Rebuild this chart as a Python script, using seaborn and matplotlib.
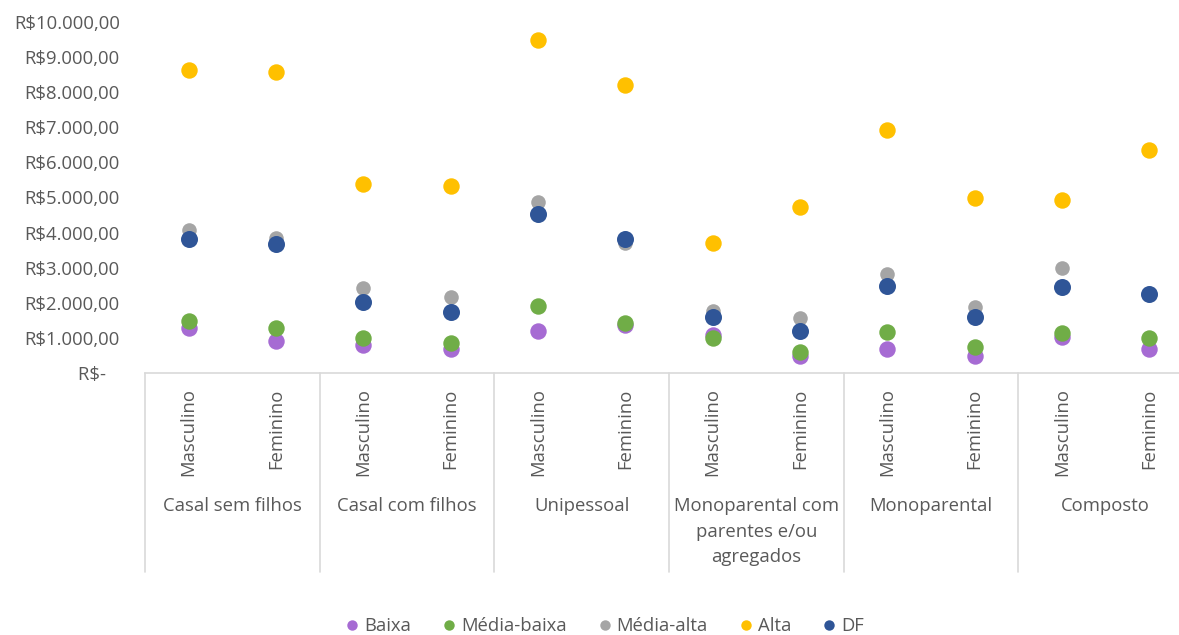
import matplotlib

matplotlib.use("Agg")
import matplotlib.pyplot as plt
import matplotlib.transforms as mtransforms
from matplotlib.lines import Line2D
from matplotlib.ticker import FuncFormatter
import pandas as pd
import seaborn as sns


GROUPS = [
    "Casal sem filhos",
    "Casal com filhos",
    "Unipessoal",
    "Monoparental com\nparentes e/ou\nagregados",
    "Monoparental",
    "Composto",
]
SEXES = ["Masculino", "Feminino"]

SERIES = ["Baixa", "Média-baixa", "Média-alta", "Alta", "DF"]
baixa = [1280, 920, 800, 680, 1210, 1370, 1080, 490, 680, 490, 1020, 680]
media_baixa = [1490, 1290, 1010, 860, 1900, 1420, 1000, 600, 1170, 750, 1130, 990]
media_alta = [4080, 3840, 2410, 2160, 4870, 3710, 1770, 1560, 2810, 1890, 3000, 2250]
alta = [8630, 8580, 5380, 5330, 9490, 8200, 3700, 4730, 6920, 4980, 4920, 6350]
df_total = [3810, 3670, 2030, 1740, 4530, 3830, 1600, 1190, 2480, 1590, 2460, 2250]

COLORS = {
    "Baixa": "#A66BD3",
    "Média-baixa": "#70AD47",
    "Média-alta": "#A5A5A5",
    "Alta": "#FFC000",
    "DF": "#2F5597",
}
SIZES = {"Baixa": 140, "Média-baixa": 140, "Média-alta": 110, "Alta": 140, "DF": 150}
TEXT = "#595959"
LINE = "#D9D9D9"
FS = 13.3

values = dict(zip(SERIES, [baixa, media_baixa, media_alta, alta, df_total]))
rows = []
for serie in SERIES:
    for i, v in enumerate(values[serie]):
        rows.append({"serie": serie, "pos": i, "valor": v})
data = pd.DataFrame(rows)

sns.set_theme(style="white")
plt.rcParams["font.family"] = ["Open Sans", "DejaVu Sans"]

fig = plt.figure(figsize=(11.79, 6.35), dpi=100)
ax = fig.add_axes([145 / 1179, 1 - 373 / 635, (1179 - 145) / 1179, (373 - 22) / 635])

for serie in SERIES:
    sub = data[data["serie"] == serie]
    sns.scatterplot(
        data=sub, x="pos", y="valor", color=COLORS[serie], s=SIZES[serie],
        linewidth=0, ax=ax, legend=False, zorder=3,
    )

ax.set_xlim(-0.5, 11.34)
ax.set_ylim(0, 10000)
ax.set_yticks(range(0, 10001, 1000))


def brl(v, _pos):
    if v == 0:
        return "R$-   "
    return "R$" + f"{v:,.2f}".replace(",", "X").replace(".", ",").replace("X", ".")


ax.yaxis.set_major_formatter(FuncFormatter(brl))
ax.tick_params(axis="y", length=0, pad=18, labelsize=FS, labelcolor=TEXT)

ax.set_xticks(range(12))
ax.set_xticklabels(SEXES * len(GROUPS), rotation=90, va="top", ha="center")
ax.tick_params(axis="x", length=0, pad=11, labelsize=FS, labelcolor=TEXT)
ax.set_xlabel("")
ax.set_ylabel("")

for side in ["top", "right", "left"]:
    ax.spines[side].set_visible(False)
ax.spines["bottom"].set_color(LINE)
ax.spines["bottom"].set_linewidth(1.2)

trans = mtransforms.blended_transform_factory(ax.transData, ax.transAxes)
for b in [-0.5 + 2 * k for k in range(len(GROUPS) + 1)]:
    ax.plot([b, b], [0, -199 / 351], transform=trans, color=LINE,
            linewidth=1.2, clip_on=False)

for k, name in enumerate(GROUPS):
    ax.annotate(
        name, xy=(2 * k + 0.5, 0), xycoords=trans,
        xytext=(0, -124 * 0.72), textcoords="offset points",
        ha="center", va="top", fontsize=FS, color=TEXT, linespacing=1.55,
    )

handles = [
    Line2D([], [], marker="o", linestyle="", markersize=7.5,
           markerfacecolor=COLORS[s], markeredgewidth=0, label=s)
    for s in SERIES
]
fig.legend(
    handles=handles, loc="center", bbox_to_anchor=(0.513, 0.0142), ncol=5,
    frameon=False, fontsize=FS, labelcolor=TEXT, handlelength=0.7,
    handletextpad=0.3, columnspacing=1.7,
)

fig.savefig("out.png", dpi=100)
